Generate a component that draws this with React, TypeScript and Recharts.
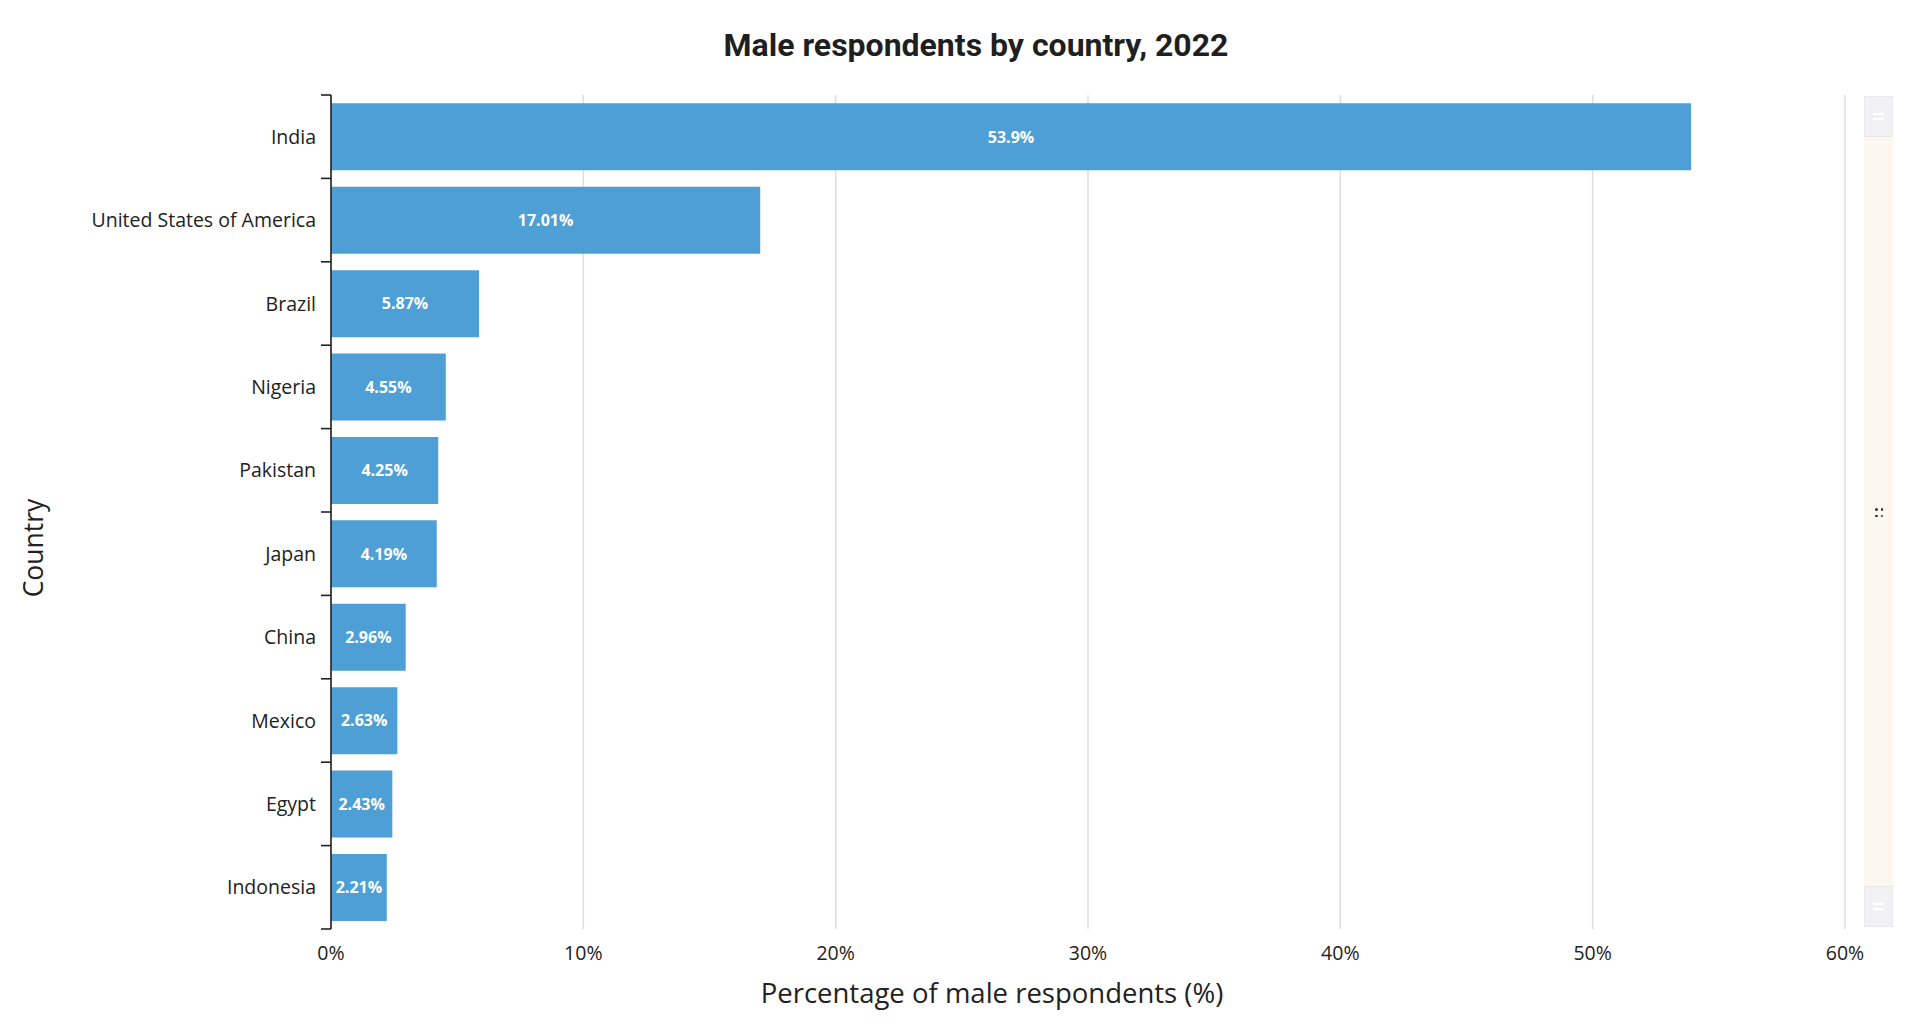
import React from 'react';
import { BarChart, Bar, XAxis, YAxis, CartesianGrid, LabelList, Label } from 'recharts';

// values
const countries = [
  'India',
  'United States of America',
  'Brazil',
  'Nigeria',
  'Pakistan',
  'Japan',
  'China',
  'Mexico',
  'Egypt',
  'Indonesia',
];
const maleShare = [53.9, 17.01, 5.87, 4.55, 4.25, 4.19, 2.96, 2.63, 2.43, 2.21];
const xTicks = [0, 10, 20, 30, 40, 50, 60];

const chartData = countries.map((country, i) => ({ country, share: maleShare[i] }));

const W = 1916;
const H = 1024;
const MARGIN = { top: 95, right: 71, bottom: 0, left: 0 };
const Y_AXIS_W = 331;
const X_AXIS_H = 95;
const PLOT_H = H - MARGIN.top - MARGIN.bottom - X_AXIS_H;
const BAND = PLOT_H / countries.length;
const TICK_SIZE = 10;
const TICK_MARGIN = 5;

const FONT = '"Open Sans", "Noto Sans", sans-serif';
const INK = '#222';
const BLUE = '#4e9fd5';

// category tick: label at band centre, tick mark at band edges
function CountryTick(props: any) {
  const { x, y, payload, index } = props;
  const axisX = x + TICK_SIZE + TICK_MARGIN;
  return (
    <g>
      <text x={x} y={y} dy="0.36em" textAnchor="end" fill={INK} fontSize={19.5} fontFamily={FONT}>
        {payload.value}
      </text>
      <line x1={axisX - TICK_SIZE} x2={axisX} y1={y - BAND / 2} y2={y - BAND / 2} stroke={INK} strokeWidth={1.6} />
      {index === countries.length - 1 && (
        <line x1={axisX - TICK_SIZE} x2={axisX} y1={y + BAND / 2} y2={y + BAND / 2} stroke={INK} strokeWidth={1.6} />
      )}
    </g>
  );
}

function ScrollStrip() {
  const handle: React.CSSProperties = {
    position: 'absolute',
    left: 0,
    width: 29,
    height: 41,
    background: '#f2f2f4',
    boxShadow: 'inset 0 0 0 1px #e8e8ea',
    display: 'flex',
    flexDirection: 'column',
    alignItems: 'center',
    justifyContent: 'center',
    gap: 3,
  };
  const bar: React.CSSProperties = { width: 11, height: 2, background: '#fff' };
  const dot: React.CSSProperties = { width: 2.5, height: 2.5, borderRadius: 2, background: '#333' };
  return (
    <div style={{ position: 'absolute', left: 1864, top: 96, width: 29, height: 831, background: '#fcf8ef' }}>
      <div style={{ ...handle, top: 0 }}>
        <div style={bar} />
        <div style={bar} />
      </div>
      <div
        style={{
          position: 'absolute',
          left: 11,
          top: 412,
          width: 8,
          height: 9,
          display: 'grid',
          gridTemplateColumns: '2.5px 2.5px',
          columnGap: 3,
          rowGap: 4,
        }}
      >
        <div style={dot} />
        <div style={dot} />
        <div style={dot} />
        <div style={dot} />
      </div>
      <div style={{ ...handle, bottom: 0 }}>
        <div style={bar} />
        <div style={bar} />
      </div>
    </div>
  );
}

export default function App() {
  return (
    <div style={{ position: 'relative', width: W, height: H, background: '#fff' }}>
      <style>{`body{margin:0}`}</style>
      <div
        style={{
          position: 'absolute',
          left: 0,
          top: 26,
          width: 1952,
          textAlign: 'center',
          fontFamily: 'Roboto, sans-serif',
          fontWeight: 700,
          fontSize: 32,
          lineHeight: '38px',
          color: '#1f1f1f',
        }}
      >
        Male respondents by country, 2022
      </div>
      <BarChart width={W} height={H} data={chartData} layout="vertical" margin={MARGIN} barCategoryGap="10%">
        <CartesianGrid horizontal={false} stroke="#dedede" strokeWidth={1.5} />
        <XAxis
          type="number"
          dataKey="share"
          domain={[0, 60]}
          ticks={xTicks}
          tickFormatter={(v) => `${v}%`}
          axisLine={false}
          tickLine={false}
          tickSize={0}
          tickMargin={17}
          height={X_AXIS_H}
          tick={{ fill: INK, fontSize: 19.5, fontFamily: FONT }}
        >
          <Label
            value="Percentage of male respondents (%)"
            position="insideBottom"
            offset={21}
            dx={-96}
            fill={INK}
            fontSize={27.5}
            fontFamily={FONT}
          />
        </XAxis>
        <YAxis
          type="category"
          dataKey="country"
          width={Y_AXIS_W}
          axisLine={{ stroke: INK, strokeWidth: 1.6 }}
          tickLine={false}
          tickSize={TICK_SIZE}
          tickMargin={TICK_MARGIN}
          tick={<CountryTick />}
          interval={0}
        >
          <Label
            value="Country"
            angle={-90}
            position="insideLeft"
            offset={34}
            dy={36}
            fill={INK}
            fontSize={26.5}
            fontFamily={FONT}
            style={{ textAnchor: 'middle' }}
          />
        </YAxis>
        <Bar dataKey="share" fill={BLUE} isAnimationActive={false}>
          <LabelList
            dataKey="share"
            position="center"
            formatter={(v: any) => `${v}%`}
            fill="#fff"
            fontSize={16}
            fontWeight={700}
            fontFamily={FONT}
          />
        </Bar>
      </BarChart>
      <ScrollStrip />
    </div>
  );
}
